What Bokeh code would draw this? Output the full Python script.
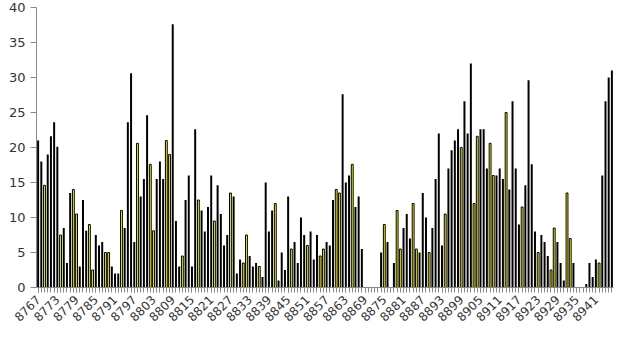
import math
from bokeh.plotting import figure
from bokeh.models import Range1d, FixedTicker, BasicTickFormatter
from bokeh.embed import file_html
from bokeh.resources import INLINE

nan = float("nan")

first_id = 8767
values = [
    21, 18, 14.6, 19, 21.6, 23.6, 20.1, 7.5, 8.5, 3.5,
    13.5, 14, 10.5, 3, 12.5, 8.1, 9, 2.5, 7.5, 6,
    6.5, 5, 5, 3, 2, 2, 11, 8.5, 23.6, 30.6,
    6.5, 20.6, 13, 15.5, 24.6, 17.6, 8.1, 15.5, 18, 15.5,
    21, 19, 37.6, 9.5, 3,
    4.5, 12.5, 16, 3, 22.6, 12.5, 11, 8, 11.5, 16,
    9.5, 14.6, 10.5, 6, 7.5, 13.5, 13, 2, 4, 3.5,
    7.5, 4.5, 3, 3.5, 3, 1.5, 15, 8, 11, 12,
    1, 5, 2.5, 13, 5.5, 6.5, 3.5, 10, 7.5, 6,
    8, 4, 7.5, 4.5, 5.5,
    6.5, 6, 12.5, 14, 13.5, 27.6, 15, 16, 17.6, 11.5,
    13, 5.5, nan, nan, nan, nan, nan, 5, 9, 6.5,
    nan, 3.5, 11, 5.5, 8.5, 10.5, 7, 12, 5.5, 5,
    13.5, 10, 5, 8.5, 15.5, 22, 6, 10.5, 17, 19.6,
    21, 22.6, 20, 26.6, 22,
    32, 12, 21.6, 22.6, 22.6, 17, 20.6, 16, 16, 17,
    15.5, 25, 14, 26.6, 17, 9, 11.5, 14.6, 29.6, 17.6,
    8, 5, 7.5, 6.5, 4.5, 2.5, 8.5, 6.5, 3.5, 1,
    13.5, 7, 3.5, nan, nan, nan, 0.5, 3.5, 1.5, 4,
    3.5, 16, 26.6, 30, 31,
]
ids = list(range(first_id, first_id + len(values)))

# bar positions (1-based) drawn in yellow
highlighted_pos = [3, 8, 12, 13, 17, 18, 22, 23, 27, 32, 36, 37, 41, 42,
                   46, 51, 56, 61, 65, 66, 70, 75, 80, 85, 89, 90,
                   94, 95, 99, 109, 113, 114, 118, 119, 123, 128, 133,
                   137, 138, 142, 143, 147, 152, 157, 161, 162, 166, 167, 176]
label_ids = list(range(first_id, ids[-1] + 1, 6))
y_ticks = [0, 5, 10, 15, 20, 25, 30, 35, 40]

hl = set(highlighted_pos)
bx, btop, yx, ytop = [], [], [], []
for i, (k, v) in enumerate(zip(ids, values), start=1):
    if isinstance(v, float) and math.isnan(v):
        continue
    if i in hl:
        yx.append(k)
        ytop.append(v)
    else:
        bx.append(k)
        btop.append(v)

p = figure(width=626, height=339, output_backend="svg", toolbar_location=None,
           x_range=Range1d(ids[0] - 0.5, ids[-1] + 0.5), y_range=Range1d(0, 40),
           min_border_left=36, min_border_right=13, min_border_top=7, min_border_bottom=52)
p.outline_line_color = None
p.xgrid.visible = False
p.ygrid.visible = False
p.background_fill_color = "white"
p.border_fill_color = "white"

p.vbar(x=bx, top=btop, width=0.62, fill_color="#000000", line_color=None)
p.vbar(x=yx, top=ytop, width=0.58, fill_color="#FFFF00",
       line_color="#000000", line_width=1)

p.xaxis.ticker = FixedTicker(ticks=label_ids, minor_ticks=ids)
p.xaxis.formatter = BasicTickFormatter(use_scientific=False)
p.xaxis.major_label_orientation = math.pi / 4
p.xaxis.axis_line_color = "#888888"
p.xaxis.major_tick_line_color = "#888888"
p.xaxis.minor_tick_line_color = "#888888"
p.xaxis.major_tick_out = 5
p.xaxis.major_tick_in = 0
p.xaxis.minor_tick_out = 5
p.xaxis.minor_tick_in = 0
p.xaxis.major_label_text_font = "DejaVu Sans"
p.xaxis.major_label_text_font_size = "12px"
p.xaxis.major_label_text_color = "#333333"

p.yaxis.ticker = FixedTicker(ticks=y_ticks)
p.yaxis.axis_line_color = "#888888"
p.yaxis.major_tick_line_color = "#888888"
p.yaxis.minor_tick_line_color = None
p.yaxis.major_tick_out = 6
p.yaxis.major_tick_in = 0
p.yaxis.major_label_text_font = "DejaVu Sans"
p.yaxis.major_label_text_font_size = "13px"
p.yaxis.major_label_text_color = "#333333"

open("out.html", "w").write(file_html(p, INLINE))
